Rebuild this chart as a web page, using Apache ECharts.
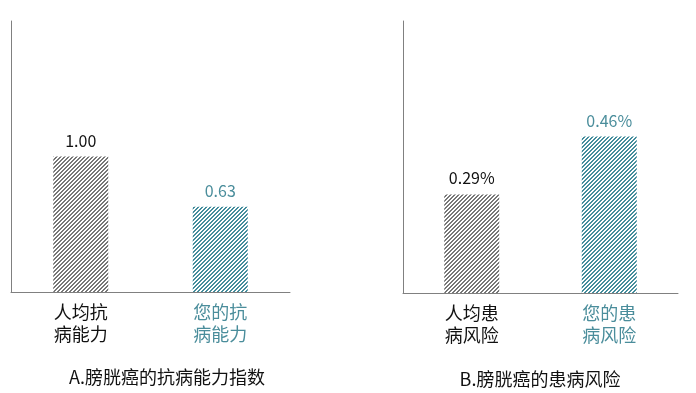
<!DOCTYPE html>
<html><head><meta charset="utf-8">
<script src="https://cdn.jsdelivr.net/npm/echarts@6/dist/echarts.min.js"></script>
<style>html,body{margin:0;padding:0;background:#fff}#c{width:696px;height:393px}</style>
</head><body><div id="c"></div>
<script>
const catsA = ['人均抗\n病能力', '您的抗\n病能力'];
const valsA = [1.00, 0.63];
const catsB = ['人均患\n病风险', '您的患\n病风险'];
const valsB = [0.29, 0.46];
const titleA = 'A.膀胱癌的抗病能力指数';
const titleB = 'B.膀胱癌的患病风险';

const FONT = '"Noto Sans CJK SC", "Noto Sans", sans-serif';
const GRAY = '#777777', TEAL = '#458d9c';
const LABEL_TEAL = '#4a8d9b';

function hatch(color) {
  const p = 4;
  const c = document.createElement('canvas');
  c.width = p; c.height = p;
  const ctx = c.getContext('2d');
  ctx.fillStyle = '#fff'; ctx.fillRect(0, 0, p, p);
  ctx.fillStyle = color;
  for (let x = 0; x < p; x++) for (let y = 0; y < p; y++) {
    if ((x + y) % p < 2) ctx.fillRect(x, y, 1, 1);
  }
  return { image: c, repeat: 'repeat' };
}
const colors = [hatch(GRAY), hatch(TEAL)];
const labelColors = ['#111', LABEL_TEAL];
const catColors = ['#111', LABEL_TEAL];

function mkData(vals) {
  return vals.map((v, i) => ({
    value: v,
    itemStyle: { color: colors[i] },
    label: { color: labelColors[i] }
  }));
}
function mkCats(cats) {
  return cats.map((c, i) => ({ value: c, textStyle: { color: catColors[i] } }));
}

const axisLine = { show: true, lineStyle: { color: '#808080', width: 1 } };

const chart = echarts.init(document.getElementById('c'));
chart.setOption({
  animation: false,
  grid: [
    { left: 11, top: 21, width: 279, bottom: 101 },
    { left: 403, top: 21, width: 275, bottom: 100 }
  ],
  xAxis: [0, 1].map(i => ({
    type: 'category', gridIndex: i,
    data: mkCats(i === 0 ? catsA : catsB),
    axisLine, axisTick: { show: false },
    axisLabel: { fontSize: 18, lineHeight: 22, margin: 9, fontFamily: FONT, interval: 0 }
  })),
  yAxis: [
    { type: 'value', gridIndex: 0, min: 0, max: 2, axisLine, axisTick: { show: false }, axisLabel: { show: false }, splitLine: { show: false } },
    { type: 'value', gridIndex: 1, min: 0, max: 0.8, axisLine, axisTick: { show: false }, axisLabel: { show: false }, splitLine: { show: false } }
  ],
  series: [
    { type: 'bar', xAxisIndex: 0, yAxisIndex: 0, data: mkData(valsA), barWidth: 55,
      label: { show: true, position: 'top', distance: 8, fontSize: 16, fontFamily: FONT, formatter: p => p.value.toFixed(2) } },
    { type: 'bar', xAxisIndex: 1, yAxisIndex: 1, data: mkData(valsB), barWidth: 55,
      label: { show: true, position: 'top', distance: 8, fontSize: 16, fontFamily: FONT, formatter: p => p.value.toFixed(2) + '%' } }
  ],
  graphic: [
    { type: 'text', x: 167, y: 377, style: { text: titleA, fill: '#111', font: '18px ' + FONT, textAlign: 'center', textVerticalAlign: 'middle' } },
    { type: 'text', x: 540, y: 379, style: { text: titleB, fill: '#111', font: '18px ' + FONT, textAlign: 'center', textVerticalAlign: 'middle' } }
  ]
});
</script></body></html>
